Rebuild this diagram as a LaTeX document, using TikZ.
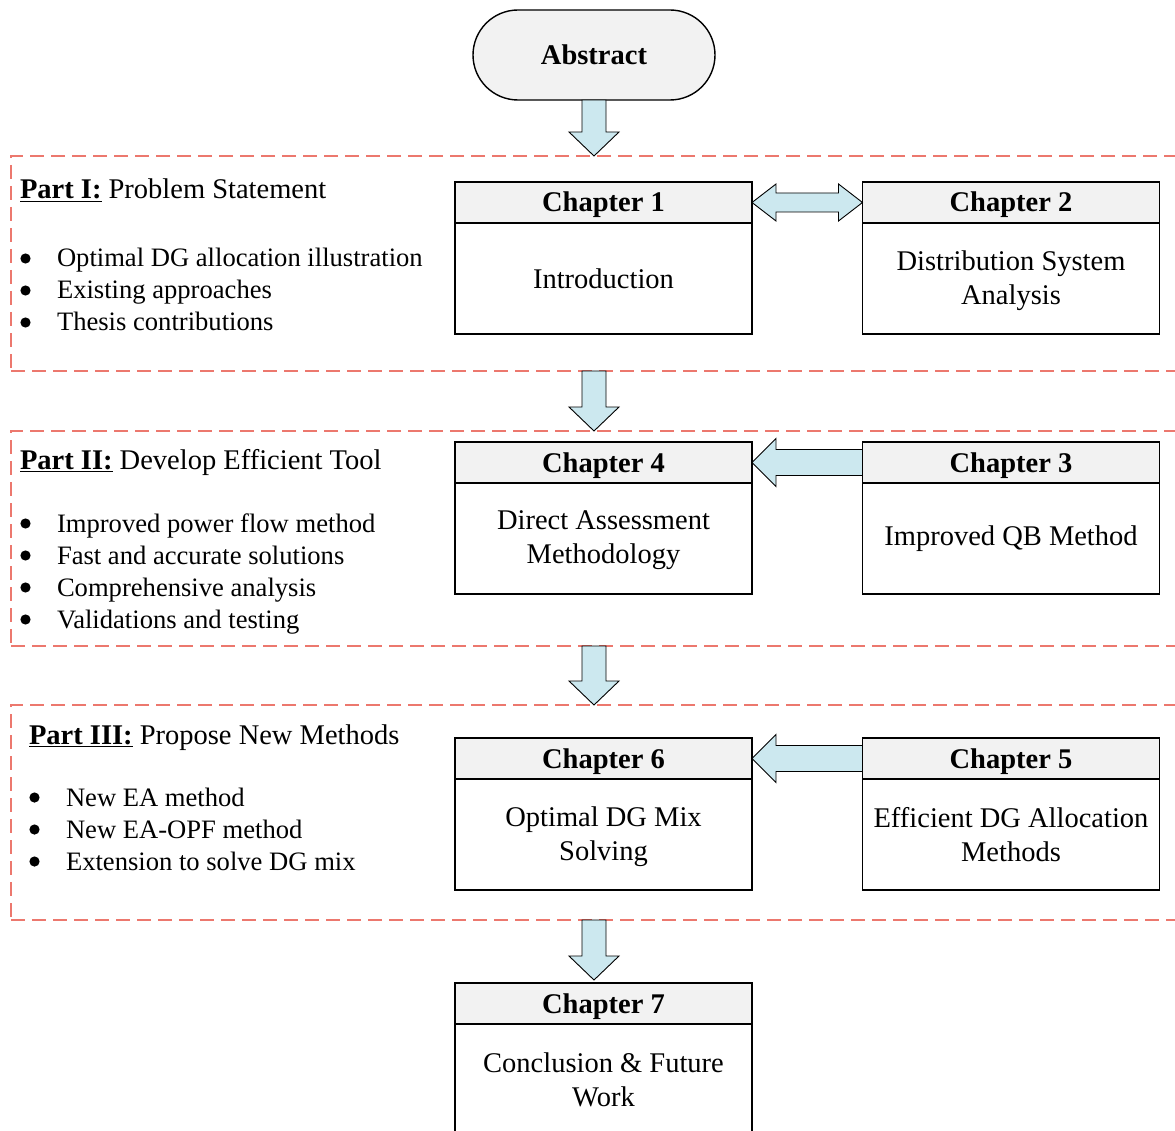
\documentclass[tikz,border=0pt]{standalone}
\usepackage{fontspec}
\setmainfont{Liberation Serif}
\usetikzlibrary{calc}
\definecolor{dashred}{RGB}{236,120,110}
\definecolor{arrowblue}{RGB}{204,232,239}
\definecolor{headgray}{RGB}{242,242,242}

% vertical block arrow on the common axis below the Abstract node
\newcommand\blkdown[2]{%
  \filldraw[blockarrow] let \p3=(abs.south), \p1=(#1), \p2=(#2) in
    (\x3-12pt,\y1) -- (\x3-12pt,\y2+24pt) -- (\x3-25pt,\y2+24pt) -- (\x3,\y2)
    -- (\x3+25pt,\y2+24pt) -- (\x3+12pt,\y2+24pt) -- (\x3+12pt,\y1) -- cycle;}
% horizontal block arrow pointing left, from #1 (right end) to #2 (tip)
\newcommand\blkleft[2]{%
  \filldraw[blockarrow] let \p1=(#1), \p2=(#2) in
    (\x1,\y1+13pt) -- (\x2+24pt,\y1+13pt) -- (\x2+24pt,\y1+24pt) -- (\x2,\y1)
    -- (\x2+24pt,\y1-24pt) -- (\x2+24pt,\y1-13pt) -- (\x1,\y1-13pt) -- cycle;}

\begin{document}
\begin{tikzpicture}[x=1pt,y=-1pt,
  every node/.style={inner sep=0pt,outer sep=0pt},
  partbox/.style={draw=dashred, line width=1.6pt, dash pattern=on 14pt off 7pt,
    minimum width=1169pt, minimum height=215pt},
  chapbox/.style={draw, line width=1.4pt, minimum width=297pt, minimum height=152pt},
  chaphead/.style={draw, line width=1.4pt, fill=headgray, minimum width=297pt,
    minimum height=41pt, text height=19pt, text depth=0pt,
    font=\fontsize{28.5}{34}\selectfont\bfseries},
  chapbody/.style={align=center, font=\fontsize{28.5}{34}\selectfont},
  blockarrow/.style={fill=arrowblue, draw=black, line width=0.9pt, line join=miter},
  parttitle/.style={anchor=base west, font=\fontsize{28.5}{34}\selectfont},
  bullets/.style={anchor=base west, font=\fontsize{26.6}{32}\selectfont},
  bulletdot/.style={fill=black}
]
\useasboundingbox (0,0) rectangle (1175,1131);
\clip (0,0) rectangle (1175,1131);

% dashed part frames
\node[partbox] (partI) at (595.5,263.5) {};
\node[partbox] (partII) at (595.5,538.5) {};
\node[partbox] (partIII) at (595.5,812.5) {};

% Abstract
\node[draw, line width=1.4pt, fill=headgray, rounded corners=45pt,
  minimum width=242pt, minimum height=90pt, text height=19pt, text depth=0pt,
  font=\fontsize{28.5}{34}\selectfont\bfseries] (abs) at (594,55) {Abstract};

% part titles and item lists
\node[parttitle] (t1) at (20,199) {\underline{\textbf{Part I:}} Problem Statement};
\node[bullets] (l1) at (57,267) {\begin{tabular}[t]{@{}l@{}}
  Optimal DG allocation illustration\\
  Existing approaches\\
  Thesis contributions\end{tabular}};

\node[parttitle] (t2) at (20,469.5) {\underline{\textbf{Part II:}} Develop Efficient Tool};
\node[bullets] (l2) at (57,532) {\begin{tabular}[t]{@{}l@{}}
  Improved power flow method\\
  Fast and accurate solutions\\
  Comprehensive analysis\\
  Validations and testing\end{tabular}};

\node[parttitle] (t3) at (29,744.5) {\underline{\textbf{Part III:}} Propose New Methods};
\node[bullets] (l3) at (66,806) {\begin{tabular}[t]{@{}l@{}}
  New EA method\\
  New EA-OPF method\\
  Extension to solve DG mix\end{tabular}};

% list bullets
\foreach \y in {258.5,290.5,322.5,523.5,555.5,587.5,619.5}
  \fill[bulletdot] (25.5,\y) circle (5.1);
\foreach \y in {797.5,829.5,861.5}
  \fill[bulletdot] (34.5,\y) circle (5.1);

% chapter boxes
\foreach \n/\x/\y in {1/603.5/258, 2/1011/258, 4/603.5/518, 3/1011/518,
                      6/603.5/814, 5/1011/814, 7/603.5/1059} {
  \node[chapbox] (c\n) at (\x,\y) {};
  \node[chaphead, anchor=north] (c\n h) at (c\n.north) {Chapter \n};
}
\node[chapbody] (b1) at ($(c1h.south)!0.5!(c1.south)$) {Introduction};
\node[chapbody] (b2) at ($(c2h.south)!0.5!(c2.south)+(0,2)$) {Distribution System\\Analysis};
\node[chapbody] (b4) at ($(c4h.south)!0.5!(c4.south)+(0,2)$) {Direct Assessment\\Methodology};
\node[chapbody] (b3) at ($(c3h.south)!0.5!(c3.south)$) {Improved QB Method};
\node[chapbody] (b6) at ($(c6h.south)!0.5!(c6.south)+(0,2)$) {Optimal DG Mix\\Solving};
\node[chapbody] (b5) at ($(c5h.south)!0.5!(c5.south)$) {Efficient DG Allocation\\Methods};
\node[chapbody] (b7) at ($(c7h.south)!0.5!(c7.south)$) {Conclusion \& Future\\Work};

% block arrows
\blkdown{abs.south}{partI.north}
\blkdown{partI.south}{partII.north}
\blkdown{partII.south}{partIII.north}
\coordinate (c7top) at ($(c7.north)+(0,-3)$);
\blkdown{partIII.south}{c7top}

\filldraw[blockarrow] let \p1=(c1h.east), \p2=(c2h.west) in
  (\x1,\y1) -- (\x1+24pt,\y1+18.5pt) -- (\x1+24pt,\y1+9.5pt) -- (\x2-24pt,\y1+9.5pt)
  -- (\x2-24pt,\y1+18.5pt) -- (\x2,\y1) -- (\x2-24pt,\y1-18.5pt) -- (\x2-24pt,\y1-9.5pt)
  -- (\x1+24pt,\y1-9.5pt) -- (\x1+24pt,\y1-18.5pt) -- cycle;
\blkleft{c3h.west}{c4h.east}
\blkleft{c5h.west}{c6h.east}
\end{tikzpicture}
\end{document}
